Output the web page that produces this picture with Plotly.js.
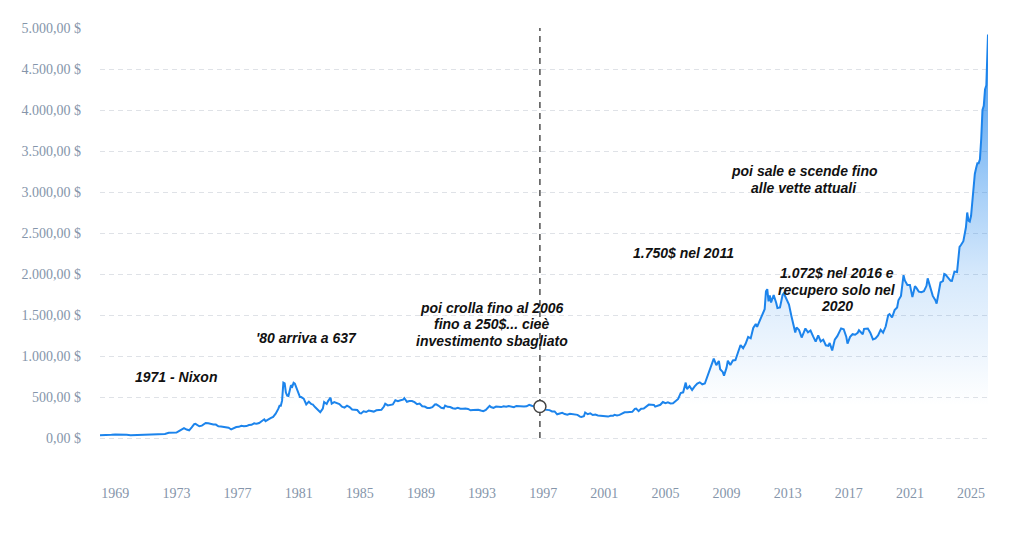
<!DOCTYPE html>
<html>
<head>
<meta charset="utf-8">
<script src="https://cdn.plot.ly/plotly-3.0.1.min.js"></script>
<style>html,body{margin:0;padding:0;background:#fff;}#chart{width:1024px;height:542px;}</style>
</head>
<body>
<div id="chart"></div>
<script>
// Gold price (USD/oz)
var dates = [
"1968-01-01","1968-04-01","1968-07-01","1968-10-01","1969-01-01","1969-04-01","1969-07-01","1969-10-01",
"1970-01-01","1970-04-01","1970-07-01","1970-10-01","1971-01-01","1971-04-01","1971-07-01","1971-10-01",
"1972-01-01","1972-04-01","1972-07-01","1972-10-01","1973-01-01","1973-03-01","1973-05-01","1973-07-01","1973-09-01","1973-11-01",
"1974-01-01","1974-03-01","1974-04-01","1974-06-01","1974-07-01","1974-09-01","1974-11-01","1974-12-01",
"1975-02-01","1975-04-01","1975-06-01","1975-08-01","1975-10-01","1975-12-01",
"1976-02-01","1976-04-01","1976-06-01","1976-08-01","1976-10-01","1976-12-01",
"1977-02-01","1977-04-01","1977-06-01","1977-08-01","1977-10-01","1977-12-01",
"1978-02-01","1978-04-01","1978-06-01","1978-08-01","1978-10-01","1978-11-01",
"1979-01-01","1979-03-01","1979-05-01","1979-07-01","1979-09-01","1979-10-01","1979-11-01","1979-12-01",
"1980-01-01","1980-02-01","1980-03-01","1980-04-01","1980-05-01","1980-06-01","1980-07-01","1980-08-01","1980-09-01","1980-10-01","1980-11-01","1980-12-01",
"1981-01-01","1981-02-01","1981-03-01","1981-05-01","1981-07-01","1981-09-01","1981-11-01","1981-12-01",
"1982-02-01","1982-04-01","1982-06-01","1982-08-01","1982-09-01","1982-11-01","1982-12-01",
"1983-02-01","1983-03-01","1983-05-01","1983-07-01","1983-09-01","1983-11-01",
"1984-01-01","1984-03-01","1984-05-01","1984-07-01","1984-09-01","1984-11-01",
"1985-01-01","1985-02-01","1985-04-01","1985-06-01","1985-08-01","1985-10-01","1985-12-01",
"1986-02-01","1986-04-01","1986-06-01","1986-08-01","1986-09-01","1986-11-01",
"1987-01-01","1987-03-01","1987-05-01","1987-07-01","1987-09-01","1987-11-01","1987-12-01",
"1988-02-01","1988-04-01","1988-06-01","1988-08-01","1988-10-01","1988-12-01",
"1989-02-01","1989-04-01","1989-06-01","1989-08-01","1989-10-01","1989-12-01",
"1990-01-01","1990-03-01","1990-05-01","1990-07-01","1990-08-01","1990-10-01","1990-12-01",
"1991-02-01","1991-04-01","1991-06-01","1991-08-01","1991-10-01","1991-12-01",
"1992-02-01","1992-04-01","1992-06-01","1992-08-01","1992-10-01","1992-12-01",
"1993-02-01","1993-04-01","1993-06-01","1993-07-01","1993-08-01","1993-10-01","1993-12-01",
"1994-02-01","1994-04-01","1994-06-01","1994-08-01","1994-10-01","1994-12-01",
"1995-02-01","1995-04-01","1995-06-01","1995-08-01","1995-10-01","1995-12-01",
"1996-02-01","1996-04-01","1996-06-01","1996-08-01","1996-10-01","1996-12-01",
"1997-02-01","1997-04-01","1997-06-01","1997-08-01","1997-10-01","1997-12-01",
"1998-02-01","1998-04-01","1998-06-01","1998-08-01","1998-10-01","1998-12-01",
"1999-02-01","1999-04-01","1999-06-01","1999-07-01","1999-09-01","1999-10-01","1999-12-01",
"2000-02-01","2000-04-01","2000-06-01","2000-08-01","2000-10-01","2000-12-01",
"2001-02-01","2001-04-01","2001-06-01","2001-08-01","2001-09-01","2001-11-01",
"2002-01-01","2002-03-01","2002-05-01","2002-07-01","2002-09-01","2002-11-01",
"2003-01-01","2003-02-01","2003-04-01","2003-06-01","2003-08-01","2003-10-01","2003-12-01",
"2004-02-01","2004-04-01","2004-05-01","2004-07-01","2004-09-01","2004-11-01",
"2005-01-01","2005-03-01","2005-05-01","2005-07-01","2005-09-01","2005-11-01",
"2006-01-01","2006-03-01","2006-05-01","2006-06-01","2006-08-01","2006-10-01","2006-12-01",
"2007-02-01","2007-04-01","2007-06-01","2007-08-01","2007-09-01","2007-11-01",
"2008-01-01","2008-03-01","2008-05-01","2008-07-01","2008-08-01","2008-10-01","2008-11-01",
"2009-01-01","2009-02-01","2009-04-01","2009-06-01","2009-08-01","2009-10-01","2009-12-01",
"2010-02-01","2010-04-01","2010-06-01","2010-08-01","2010-10-01","2010-12-01",
"2011-01-01","2011-03-01","2011-05-01","2011-07-01","2011-08-01","2011-09-01","2011-10-01","2011-11-01","2011-12-01",
"2012-02-01","2012-04-01","2012-05-01","2012-07-01","2012-09-01","2012-10-01","2012-12-01",
"2013-02-01","2013-04-01","2013-06-01","2013-07-01","2013-08-01","2013-10-01","2013-12-01",
"2014-02-01","2014-03-01","2014-05-01","2014-07-01","2014-09-01","2014-11-01",
"2015-01-01","2015-03-01","2015-05-01","2015-07-01","2015-09-01","2015-10-01","2015-12-01",
"2016-02-01","2016-04-01","2016-07-01","2016-09-01","2016-11-01","2016-12-01",
"2017-02-01","2017-04-01","2017-06-01","2017-08-01","2017-09-01","2017-12-01",
"2018-01-01","2018-04-01","2018-06-01","2018-08-01","2018-10-01","2018-12-01",
"2019-02-01","2019-04-01","2019-06-01","2019-08-01","2019-09-01","2019-11-01",
"2020-01-01","2020-03-01","2020-04-01","2020-06-01","2020-07-01","2020-08-01","2020-09-01","2020-11-01",
"2021-01-01","2021-03-01","2021-05-01","2021-06-01","2021-08-01","2021-10-01","2021-12-01",
"2022-02-01","2022-03-01","2022-05-01","2022-07-01","2022-09-01","2022-10-01","2022-11-01",
"2023-01-01","2023-03-01","2023-04-01","2023-05-01","2023-07-01","2023-09-01","2023-10-01","2023-12-01",
"2024-02-01","2024-03-01","2024-04-01","2024-05-01","2024-07-01","2024-09-01","2024-10-01","2024-11-01","2024-12-01",
"2025-01-01","2025-02-01","2025-03-01","2025-04-01","2025-05-01","2025-06-01","2025-07-01","2025-08-01","2025-09-01","2025-10-01","2025-11-01","2025-12-01",
"2026-01-01","2026-02-10"
];
var prices = [
35,39,39,39,42,43,42,40,
35,36,35.5,37,38,39,41,42,
46,49,64,64,66,84,102,120,103,94,
130,168,172,154,143,151,181,183,
180,169,164,164,143,139,
132,128,125,104,117,134,
136,149,143,145,158,161,
178,175,183,206,228,206,
227,242,257,296,355,392,392,455,
675,665,554,517,513,600,644,627,673,662,624,596,
557,500,499,480,409,443,413,410,
374,350,315,358,438,414,447,
492,419,437,423,414,382,
371,394,377,347,341,341,
303,299,325,317,334,325,322,
338,345,343,384,418,398,
408,409,460,450,460,467,486,
442,452,451,437,412,419,
388,384,367,365,375,409,
410,393,369,362,395,380,378,
363,357,367,356,358,361,
354,338,340,343,344,335,
327,342,372,392,378,367,383,
381,377,386,381,389,379,
376,391,387,383,383,387,
405,393,385,387,381,369,
346,344,340,324,324,289,
297,308,292,284,296,291,
287,282,261,256,265,311,290,
300,280,285,275,270,272,
262,261,270,272,283,276,
282,294,314,314,319,319,
356,359,328,356,360,379,407,
405,403,383,398,405,439,
424,434,421,424,456,476,
549,557,676,596,633,586,629,
665,679,655,665,712,806,
889,968,889,939,839,806,760,
858,943,890,945,950,1043,1134,
1095,1148,1232,1215,1342,1390,
1356,1424,1510,1571,1790,1815,1666,1739,1652,
1742,1650,1585,1593,1744,1765,1688,
1627,1485,1342,1287,1347,1316,1225,
1301,1336,1288,1311,1239,1176,
1251,1178,1199,1131,1124,1159,1068,
1200,1242,1337,1326,1236,1151,
1234,1266,1260,1283,1314,1265,
1331,1335,1281,1202,1215,1250,
1320,1285,1359,1500,1510,1470,
1560,1591,1680,1732,1840,1985,1921,1866,
1867,1718,1850,1834,1785,1777,1790,
1856,1947,1849,1733,1680,1640,1725,
1897,1913,2000,1992,1950,1916,1915,2030,
2024,2160,2330,2350,2400,2570,2750,2650,2640,
2710,2900,2980,3220,3290,3350,3350,3400,3650,4000,4050,4250,
4300,4920
];
// highlighted point (vertical marker)
var markDate = ["1996-10-15"];
var markPrice = [385];
var yTicks = [0,500,1000,1500,2000,2500,3000,3500,4000,4500,5000];
var yTickText = yTicks.map(function (v) {
  var s = v.toFixed(2).split(".");
  return s[0].replace(/\B(?=(\d{3})+(?!\d))/g, ".") + "," + s[1] + " $";
});

// annotation texts (one entry per line)
var notes = [
  {x: "1973-01-01", y: 745, lines: ["1971 - Nixon"]},
  {x: "1981-07-01", y: 1220, lines: ["'80 arriva a 637"]},
  {x: "1993-08-15", y: 1390, lines: ["poi crolla fino al 2006", "fino a 250$... cieè", "investimento sbagliato"]},
  {x: "2006-03-01", y: 2252, lines: ["1.750$ nel 2011"]},
  {x: "2016-04-01", y: 1805, lines: ["1.072$ nel 2016 e", "recupero solo nel", "2020"]},
  {x: "2014-02-01", y: 3155, lines: ["poi sale e scende fino", "alle vette attuali"]}
];

var lineTrace = {
  x: dates, y: prices, type: "scatter", mode: "lines",
  line: {color: "#1c84ec", width: 2},
  fill: "tozeroy",
  fillgradient: {
    type: "vertical", start: 400, stop: 4950,
    colorscale: [
      [0, "rgba(28,132,236,0)"],
      [0.15, "rgba(28,132,236,0.08)"],
      [0.35, "rgba(28,132,236,0.18)"],
      [0.55, "rgba(28,132,236,0.37)"],
      [0.8, "rgba(28,132,236,0.64)"],
      [1, "rgba(28,132,236,0.88)"]
    ]
  },
  hoverinfo: "skip", showlegend: false
};
var markTrace = {
  x: markDate, y: markPrice, type: "scatter", mode: "markers",
  marker: {size: 12, color: "#ffffff", line: {color: "#444", width: 1.5}},
  hoverinfo: "skip", showlegend: false
};

var annFont = {family: "Liberation Sans, Arial, sans-serif", size: 14, color: "#111", weight: "bold", style: "italic"};
var LINE_PX = 16.5;
var annotations = [];
notes.forEach(function (n) {
  var k = n.lines.length;
  n.lines.forEach(function (t, i) {
    annotations.push({
      x: n.x, y: n.y, xref: "x", yref: "y", text: t, showarrow: false,
      font: annFont, xanchor: "center", yanchor: "middle",
      yshift: ((k - 1) / 2 - i) * LINE_PX
    });
  });
});

var layout = {
  width: 1024, height: 542,
  margin: {l: 100, r: 36, t: 28, b: 63},
  paper_bgcolor: "#fff", plot_bgcolor: "#fff",
  showlegend: false,
  xaxis: {
    type: "date",
    range: ["1968-01-01", "2026-02-10"],
    tick0: "1969-01-01", dtick: "M48", tickformat: "%Y",
    showgrid: false, zeroline: false, showline: false, ticks: "",
    ticklabelstandoff: 4,
    tickfont: {family: "Liberation Serif, Times New Roman, serif", size: 14, color: "#8595aa"}
  },
  yaxis: {
    range: [-500, 5000],
    tickmode: "array", tickvals: yTicks, ticktext: yTickText,
    showgrid: true, gridcolor: "#dfe2e7", gridwidth: 1, griddash: "5px,4px",
    zeroline: false, showline: false, ticks: "",
    ticklabelstandoff: 18,
    tickfont: {family: "Liberation Serif, Times New Roman, serif", size: 14, color: "#8595aa"}
  },
  shapes: [{
    type: "line", xref: "x", yref: "y",
    x0: markDate[0], x1: markDate[0], y0: 0, y1: 5000,
    line: {color: "#333", width: 1.3, dash: "6px,5px"},
    layer: "below"
  }],
  annotations: annotations
};

Plotly.newPlot("chart", [lineTrace, markTrace], layout, {displayModeBar: false, staticPlot: true});
</script>
</body>
</html>
